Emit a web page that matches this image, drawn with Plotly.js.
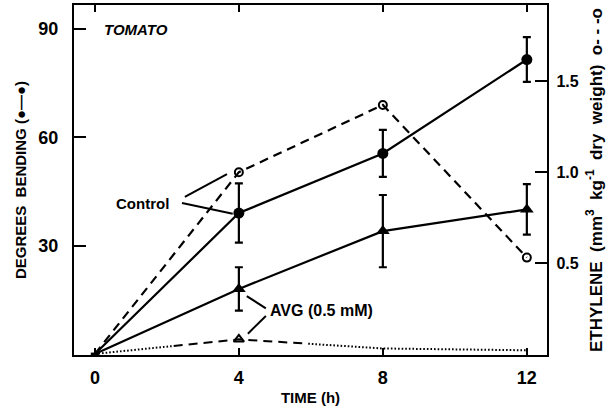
<!DOCTYPE html>
<html>
<head>
<meta charset="utf-8">
<script src="https://cdn.plot.ly/plotly-3.0.1.min.js"></script>
<style>
  html, body { margin: 0; padding: 0; background: #fff; }
  #chart { width: 616px; height: 412px; }
</style>
</head>
<body>
<div id="chart"></div>
<script>
// Time after treatment (h)
var hours = [0, 4, 8, 12];

// Degrees of bending (left axis)
var controlBending = [0, 39, 55.5, 81.5];
var controlBendingErr = [0, 8.2, 6.5, 6.2];
var avgBending = [0, 18, 34, 40];
var avgBendingErr = [0, 6, 10, 7];

// Ethylene production, mm3 kg-1 dry weight (right axis)
var controlEthylene = [0, 1.0, 1.37, 0.53];
var avgEthylene = [0, 0.08, 0.03, 0.02];

// Tick labels
var bendTicks = [30, 60, 90];
var ethTicks = [0.5, 1.0, 1.5];
var ethTickText = ['0.5', '1.0', '1.5'];
var timeTicks = [0, 4, 8, 12];

var FONT = 'Liberation Sans, Arial, sans-serif';
var INK = '#000';

// No symbol is drawn at the common origin
function sizes(s) { return hours.map(function (h) { return h === 0 ? 0 : s; }); }

// Build a stroke pattern that is dotted, then dashed, then dotted again
function mixedDash(parts) {
  var out = [];
  parts.forEach(function (p) {
    var n = Math.max(1, Math.round(p[0] / (p[1] + p[2])));
    for (var i = 0; i < n; i++) { out.push(p[1] + 'px', p[2] + 'px'); }
  });
  return out.join(',');
}
var avgEthDash = mixedDash([[78, 1.6, 2.0], [140, 9, 6], [240, 1.6, 2.0]]);

var traces = [
  {
    x: hours, y: controlBending, type: 'scatter', mode: 'lines+markers',
    line: { color: INK, width: 2.2 },
    marker: { symbol: 'circle', size: sizes(11), color: INK, opacity: 1, line: { width: 0 } },
    error_y: { type: 'data', array: controlBendingErr, visible: true, color: INK, thickness: 2.2, width: 4 },
    cliponaxis: false, hoverinfo: 'skip'
  },
  {
    x: hours, y: avgBending, type: 'scatter', mode: 'lines+markers',
    line: { color: INK, width: 2.2 },
    marker: { symbol: 'triangle-up', size: sizes(12), color: INK, opacity: 1, line: { width: 0 } },
    error_y: { type: 'data', array: avgBendingErr, visible: true, color: INK, thickness: 2.2, width: 4 },
    cliponaxis: false, hoverinfo: 'skip'
  },
  {
    x: hours, y: controlEthylene, yaxis: 'y2', type: 'scatter', mode: 'lines+markers',
    line: { color: INK, width: 2.2, dash: '9px,6px' },
    marker: { symbol: 'circle-open', size: sizes(8), color: INK, opacity: 1, line: { width: 2, color: INK } },
    cliponaxis: false, hoverinfo: 'skip'
  },
  {
    x: hours, y: avgEthylene, yaxis: 'y2', type: 'scatter', mode: 'lines',
    line: { color: INK, width: 2, dash: avgEthDash },
    cliponaxis: false, hoverinfo: 'skip'
  },
  {
    x: [hours[1]], y: [avgEthylene[1]], yaxis: 'y2', type: 'scatter', mode: 'markers',
    marker: { symbol: 'triangle-up-open', size: 9, color: INK, opacity: 1, line: { width: 2, color: INK } },
    cliponaxis: false, hoverinfo: 'skip'
  }
];

var tickFont = { family: FONT, size: 18, color: INK, weight: 'bold' };
var titleFont = { family: FONT, size: 15, color: INK, weight: 'bold' };

var layout = {
  width: 616, height: 412,
  margin: { l: 74, r: 69, t: 5, b: 57 },
  paper_bgcolor: '#fff', plot_bgcolor: '#fff',
  showlegend: false,
  xaxis: {
    range: [-0.58, 12.56], tickvals: timeTicks, ticks: 'inside', ticklen: 7, tickwidth: 2,
    tickcolor: INK, showline: true, linewidth: 2.2, linecolor: INK, mirror: 'ticks',
    showgrid: false, zeroline: false, tickfont: tickFont, ticklabelstandoff: 5,
    title: { text: 'TIME (h)', font: titleFont, standoff: 6 }
  },
  yaxis: {
    range: [-0.3, 96.6], tickvals: bendTicks, ticks: 'inside', ticklen: 12, tickwidth: 2,
    tickcolor: INK, showline: true, linewidth: 2.2, linecolor: INK,
    showgrid: false, zeroline: false, tickfont: tickFont, ticklabelstandoff: 10,
    title: { text: 'DEGREES  BENDING (●—●)', font: titleFont, standoff: 8 }
  },
  yaxis2: {
    overlaying: 'y', side: 'right',
    range: [-0.006, 1.92], tickvals: ethTicks, ticktext: ethTickText, ticks: 'inside', ticklen: 12, tickwidth: 2,
    tickcolor: INK, showline: true, linewidth: 2.2, linecolor: INK,
    showgrid: false, zeroline: false, tickfont: { family: FONT, size: 16, color: INK, weight: 'bold' },
    ticklabelstandoff: 4,
    title: { text: 'ETHYLENE  (mm<sup>3</sup>  kg<sup>-1</sup>  dry  weight)  o- - -o',
             font: { family: FONT, size: 17, color: INK, weight: 'bold' }, standoff: 12 }
  },
  annotations: [
    { x: 0.2, y: 89.7, xref: 'x', yref: 'y', text: '<b><i>TOMATO</i></b>', showarrow: false,
      xanchor: 'left', yanchor: 'middle', font: { family: FONT, size: 15, color: INK } },
    { x: 2.12, y: 41.6, xref: 'x', yref: 'y', text: '<b>Control</b>', showarrow: false,
      xanchor: 'right', yanchor: 'middle', font: { family: FONT, size: 15, color: INK } },
    { x: 4.8, y: 12.1, xref: 'x', yref: 'y', text: '<b>AVG (0.5 mM)</b>', showarrow: false,
      xanchor: 'left', yanchor: 'middle', font: { family: FONT, size: 16, color: INK } }
  ],
  shapes: [
    // leader lines from the labels to their curves
    { type: 'line', xref: 'x', yref: 'y', x0: 2.5, y0: 43.5, x1: 3.67, y1: 49.8, line: { color: INK, width: 2 } },
    { type: 'line', xref: 'x', yref: 'y', x0: 2.42, y0: 41.8, x1: 3.83, y1: 38.8, line: { color: INK, width: 2 } },
    { type: 'line', xref: 'x', yref: 'y', x0: 4.22, y0: 16, x1: 4.75, y1: 12.6, line: { color: INK, width: 2 } },
    { type: 'line', xref: 'x', yref: 'y', x0: 4.75, y0: 10.5, x1: 4.25, y1: 5.6, line: { color: INK, width: 2 } }
  ]
};

Plotly.newPlot('chart', traces, layout, { staticPlot: true, displayModeBar: false });
</script>
</body>
</html>
